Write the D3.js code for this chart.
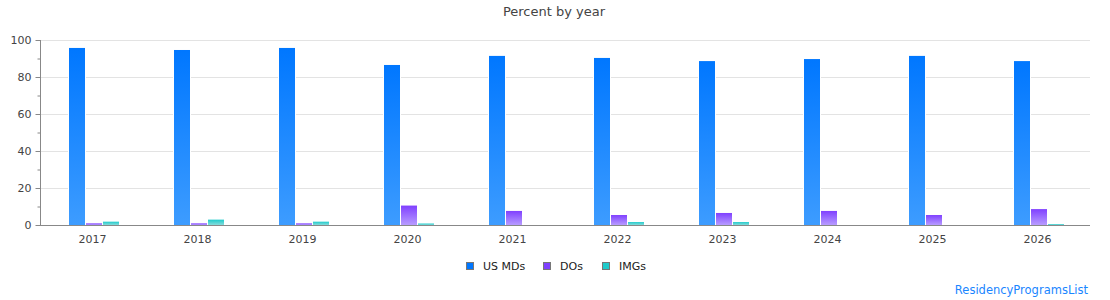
<!DOCTYPE html>
<html>
<head>
<meta charset="utf-8">
<script src="https://cdn.jsdelivr.net/npm/d3@7"></script>
<style>
  body { margin: 0; background: #fff; }
  text { font-family: "DejaVu Sans", sans-serif; }
</style>
</head>
<body>
<svg id="chart" width="1110" height="300"></svg>
<script>
// data
const years = ["2017", "2018", "2019", "2020", "2021", "2022", "2023", "2024", "2025", "2026"];
const seriesNames = ["US MDs", "DOs", "IMGs"];
const usMDs = [95.7, 94.6, 95.7, 86.5, 91.4, 90.3, 88.6, 89.7, 91.4, 88.6];
const dos = [0.9, 0.9, 0.9, 10.5, 7.6, 5.4, 6.5, 7.6, 5.4, 8.6];
const imgs = [1.8, 2.9, 1.8, 0.8, 0, 1.6, 1.6, 0, 0, 0.5];
const yTicks = [0, 20, 40, 60, 80, 100];

const values = [usMDs, dos, imgs];
const colors = [
  {top: "#0077ff", bottom: "#3d9cff"},
  {top: "#8040ff", bottom: "#b79cff"},
  {top: "#1ecbcb", bottom: "#86dcdc"}
];

const svg = d3.select("#chart");
const mLeft = 40, mRight = 1090, mTop = 40, mBottom = 225;

const x0 = d3.scaleBand().domain(years).range([mLeft, mRight]);
const x1 = d3.scaleBand().domain(seriesNames).range([29, 80]);
const y = d3.scaleLinear().domain([0, 100]).range([mBottom, mTop]);

// gradients
const defs = svg.append("defs");
colors.forEach((c, i) => {
  const g = defs.append("linearGradient")
    .attr("id", "grad" + i)
    .attr("x1", 0).attr("y1", 0).attr("x2", 0).attr("y2", 1);
  g.append("stop").attr("offset", "0%").attr("stop-color", c.top);
  g.append("stop").attr("offset", "100%").attr("stop-color", c.bottom);
});

// title
svg.append("text")
  .attr("x", 554).attr("y", 16)
  .attr("text-anchor", "middle")
  .style("font-size", "13px")
  .style("fill", "#444")
  .text("Percent by year");

// gridlines
svg.append("g")
  .selectAll("line")
  .data(yTicks.filter(d => d > 0))
  .join("line")
  .attr("x1", mLeft).attr("x2", mRight)
  .attr("y1", d => y(d) + 0.5).attr("y2", d => y(d) + 0.5)
  .style("stroke", "#e3e3e3");

// bars
const groups = svg.append("g")
  .selectAll("g")
  .data(years)
  .join("g")
  .attr("transform", d => `translate(${x0(d)},0)`);

// white halo so gridlines stop short of the bars
seriesNames.forEach((name, si) => {
  groups.append("rect")
    .attr("x", x1(name) - 1)
    .attr("width", x1.bandwidth() + 1)
    .attr("y", (d, i) => y(values[si][i]) - 1)
    .attr("height", (d, i) => mBottom - y(values[si][i]) + 1)
    .style("fill", "#fff");
});
seriesNames.forEach((name, si) => {
  groups.append("rect")
    .attr("x", x1(name))
    .attr("width", x1.bandwidth() - 1)
    .attr("y", (d, i) => y(values[si][i]))
    .attr("height", (d, i) => mBottom - y(values[si][i]))
    .style("fill", `url(#grad${si})`);
});

// y axis
const yAxis = svg.append("g")
  .attr("transform", `translate(${mLeft + 0.5},0)`);
yAxis.append("line")
  .attr("y1", mTop).attr("y2", mBottom)
  .style("stroke", "#888");
yAxis.selectAll("line.minor")
  .data(d3.range(10, 100, 20))
  .join("line")
  .attr("class", "minor")
  .attr("x1", -3).attr("x2", 0)
  .attr("y1", d => y(d) + 0.5).attr("y2", d => y(d) + 0.5)
  .style("stroke", "#888");
yAxis.selectAll("line.major")
  .data(yTicks)
  .join("line")
  .attr("class", "major")
  .attr("x1", -5).attr("x2", 0)
  .attr("y1", d => y(d) + 0.5).attr("y2", d => y(d) + 0.5)
  .style("stroke", "#888");
yAxis.selectAll("text")
  .data(yTicks)
  .join("text")
  .attr("x", -9)
  .attr("y", d => y(d) + 4)
  .attr("text-anchor", "end")
  .style("font-size", "11px")
  .style("fill", "#444")
  .text(d => d);

// x axis
svg.append("line")
  .attr("x1", mLeft).attr("x2", mRight)
  .attr("y1", mBottom + 0.5).attr("y2", mBottom + 0.5)
  .style("stroke", "#888");
svg.append("g")
  .selectAll("text")
  .data(years)
  .join("text")
  .attr("x", d => x0(d) + x0.bandwidth() / 2)
  .attr("y", 243)
  .attr("text-anchor", "middle")
  .style("font-size", "11px")
  .style("fill", "#444")
  .text(d => d);

// legend
const legendX = [466, 543, 602];
const legend = svg.append("g")
  .selectAll("g")
  .data(seriesNames)
  .join("g")
  .attr("transform", (d, i) => `translate(${legendX[i]},262)`);
legend.append("rect")
  .attr("x", 0.5).attr("y", 0.5)
  .attr("width", 7).attr("height", 7)
  .style("fill", (d, i) => colors[i].top)
  .style("stroke", "#777");
legend.append("text")
  .attr("x", 17).attr("y", 8)
  .style("font-size", "11px")
  .style("fill", "#222")
  .text(d => d);

// credit
svg.append("text")
  .attr("x", 1088).attr("y", 294)
  .attr("text-anchor", "end")
  .style("font-size", "11.5px")
  .style("fill", "#1a86ff")
  .text("ResidencyProgramsList");
</script>
</body>
</html>
